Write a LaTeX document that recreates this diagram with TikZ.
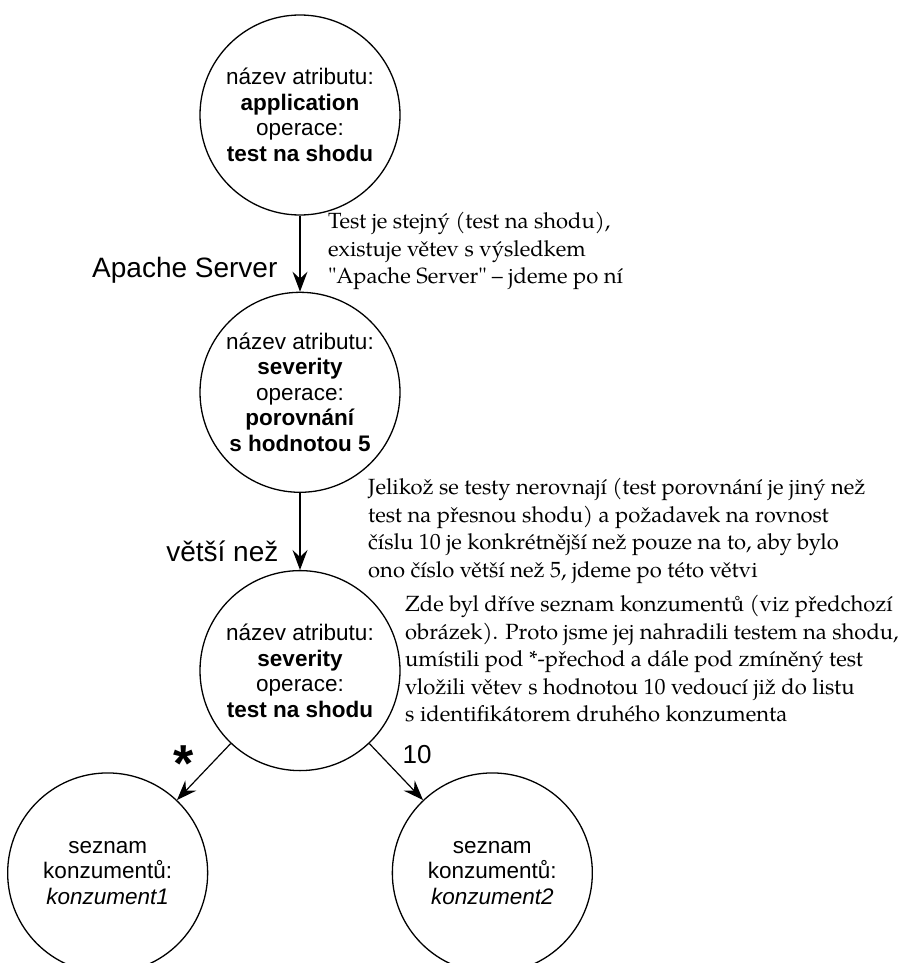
\documentclass[tikz,border=0pt]{standalone}
\usepackage{fontspec}
\setmainfont{Liberation Sans}
\newfontfamily\notefont{TeX Gyre Pagella}
\usetikzlibrary{arrows.meta, positioning}

\begin{document}
\begin{tikzpicture}[
    x=1pt, y=-1pt,
    node distance=76pt,
    state/.style={draw, circle, line width=1.3pt, minimum size=200pt, inner sep=0pt, align=center, font=\fontsize{22.5}{25.5}\selectfont},
    lbl/.style={inner sep=0pt, font=\fontsize{28}{30}\selectfont},
    note/.style={anchor=north west, inner sep=0pt, align=left, font=\notefont\fontsize{22}{27.5}\selectfont},
    arr/.style={-{Stealth[length=20pt, width=15pt, inset=7pt]}, line width=1.2pt}
]
\useasboundingbox (0,0) rectangle (915,963);
\node[state] (app) at (300,115) {název atributu:\\\textbf{application}\\operace:\\\textbf{test na shodu}};
\node[state, below=of app] (sevgt) {název atributu:\\\textbf{severity}\\operace:\\\textbf{porovnání}\\\textbf{s hodnotou 5}};
\node[state, below=77pt of sevgt] (seveq) {název atributu:\\\textbf{severity}\\operace:\\\textbf{test na shodu}};
\node[state, below left=60pt and 50pt of seveq] (kon1) {seznam\\konzumentů:\\\textit{konzument1}};
\node[state, below right=60pt and 50pt of seveq] (kon2) {seznam\\konzumentů:\\\textit{konzument2}};
% comments next to the branches
\node[note] (n1) at (328,212) {Test je stejný (test na shodu),\\existuje větev s výsledkem\\"Apache Server" – jdeme po ní};
\node[note] (n2) at (368,478) {Jelikož se testy nerovnají (test porovnání je jiný než\\test na přesnou shodu) a požadavek na rovnost\\číslu 10 je konkrétnější než pouze na to, aby bylo\\ono číslo větší než 5, jdeme po této větvi};
\node[note] (n3) at (405,595) {Zde byl dříve seznam konzumentů (viz předchozí\\obrázek). Proto jsme jej nahradili testem na shodu,\\umístili pod *-přechod a dále pod zmíněný test\\vložili větev s hodnotou 10 vedoucí již do listu\\s identifikátorem druhého konzumenta};
\draw[arr] (app) -- node[lbl, left=22pt, pos=0.72] (lapache) {Apache Server} (sevgt);
\draw[arr] (sevgt) -- node[lbl, left=21pt, pos=0.76] (lgt) {větší než} (seveq);
\draw[arr] (seveq) -- node[lbl, font=\fontsize{52}{52}\bfseries, left=18pt, pos=0.35] (lstar) {*} (kon1);
\draw[arr] (seveq) -- node[lbl, font=\fontsize{26}{28}\selectfont, right=22pt, pos=0.2] (lten) {10} (kon2);
\end{tikzpicture}
\end{document}
